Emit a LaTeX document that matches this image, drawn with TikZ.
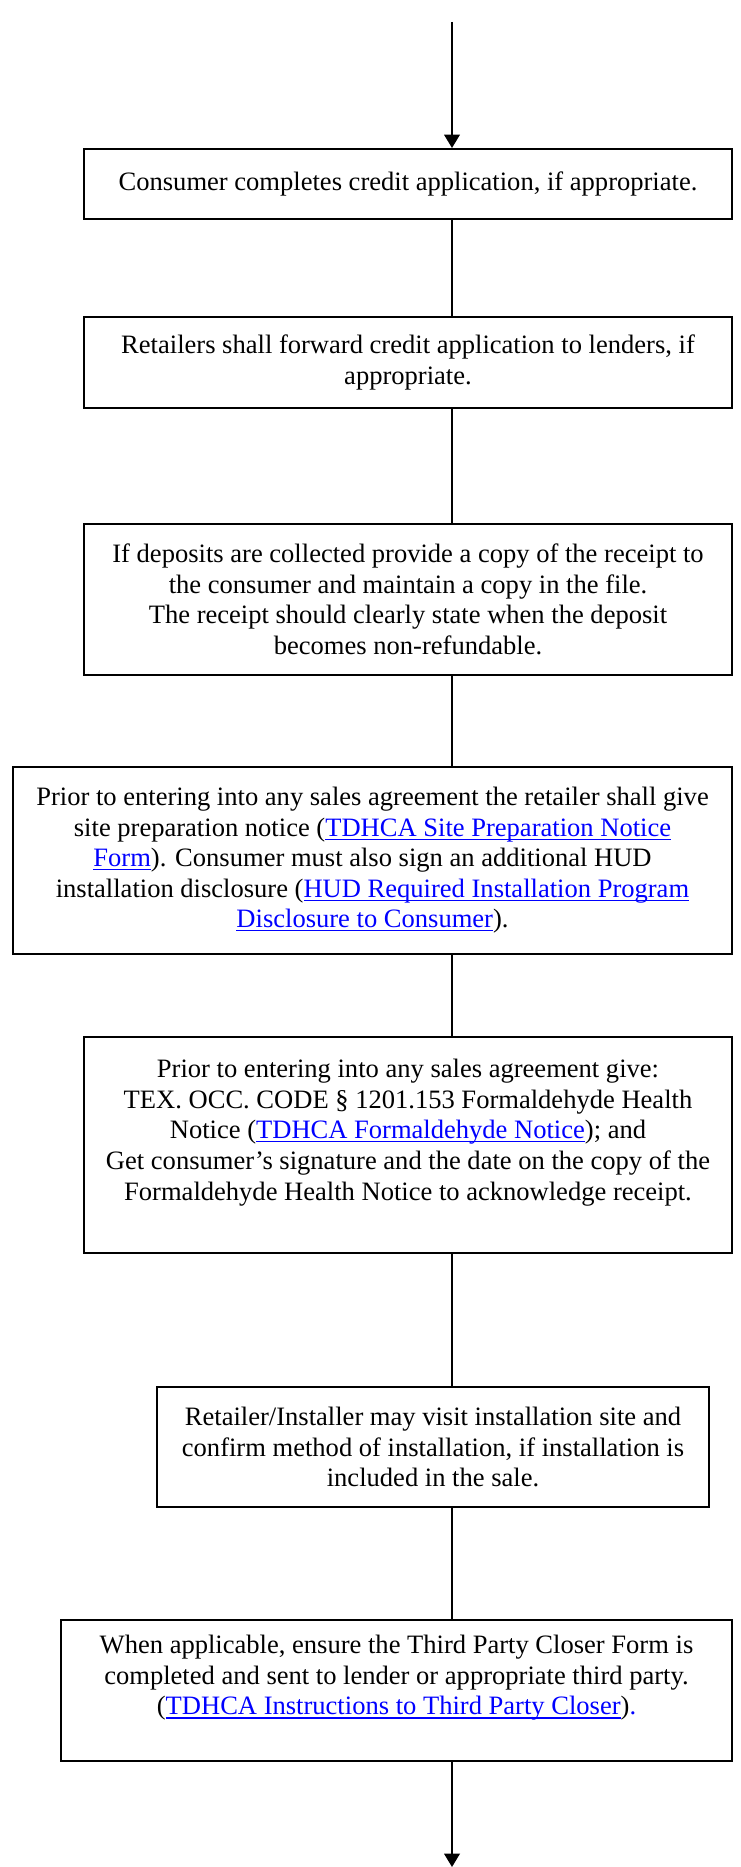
\documentclass[tikz,border=0pt]{standalone}
\usepackage{fontspec}
\setmainfont{Liberation Serif}
\usepackage{xcolor}
\usetikzlibrary{arrows.meta}

\definecolor{linkblue}{RGB}{0,0,255}
\newsavebox\lnkbox
\newcommand{\lnk}[1]{\textcolor{linkblue}{\sbox\lnkbox{#1}\rlap{\rule[-1.6pt]{\wd\lnkbox}{0.5pt}}\usebox\lnkbox}}
\newdimen\pxu \pxu=0.452pt

\begin{document}
\begin{tikzpicture}[
    x=0.452pt, y=-0.452pt,
    font=\fontsize{12pt}{13.8pt}\selectfont,
    stepbox/.style={rectangle, draw, line width=0.9pt, align=center, inner sep=0pt},
    arrow/.style={-{Triangle[length=6pt,width=7pt]}, line width=0.9pt},
    link/.style={line width=0.9pt}
]
\useasboundingbox (0,0) rectangle (740,1867);

% Spine
\coordinate (start) at (452,22);
\coordinate (finish) at (452,1867);

% Steps
\node[stepbox, minimum width=648\pxu, minimum height=70\pxu] (credit_app) at (408,184)
    {Consumer completes credit application, if appropriate.};
\node[stepbox, minimum width=648\pxu, minimum height=91\pxu] (forward_app) at (408,362.5)
    {Retailers shall forward credit application to lenders, if\\appropriate.};
\node[stepbox, minimum width=648\pxu, minimum height=151\pxu] (deposit) at (408,599.5)
    {If deposits are collected provide a copy of the receipt to\\
     the consumer and maintain a copy in the file.\\
     The receipt should clearly state when the deposit\\
     becomes non-refundable.};
\node[stepbox, minimum width=719\pxu, minimum height=187\pxu] (site_notice) at (372.5,860.5)
    {Prior to entering into any sales agreement the retailer shall give\\
     site preparation notice (\lnk{TDHCA Site Preparation Notice}\\
     \lnk{Form}). Consumer must also sign an additional HUD\\
     installation disclosure (\lnk{HUD Required Installation Program}\\
     \lnk{Disclosure to Consumer}).};
\node[stepbox, minimum width=648\pxu, minimum height=216\pxu] (formaldehyde) at (408,1145)
    {Prior to entering into any sales agreement give:\\
     TEX. OCC. CODE § 1201.153 Formaldehyde Health\\
     Notice (\lnk{TDHCA Formaldehyde Notice}); and\\
     Get consumer’s signature and the date on the copy of the\\
     Formaldehyde Health Notice to acknowledge receipt.\\
     \mbox{}};
\node[stepbox, minimum width=552\pxu, minimum height=120\pxu] (site_visit) at (433,1447)
    {Retailer/Installer may visit installation site and\\
     confirm method of installation, if installation is\\
     included in the sale.};
\node[stepbox, minimum width=671\pxu, minimum height=141\pxu] (closer) at (396.5,1690.5)
    {When applicable, ensure the Third Party Closer Form is\\
     completed and sent to lender or appropriate third party.\\
     (\lnk{TDHCA Instructions to Third Party Closer})\textcolor{linkblue}{.}\\
     \mbox{}};

% Connections
\draw[arrow] (start) -- (start |- credit_app.north);
\draw[link] (credit_app.south -| start) -- (forward_app.north -| start);
\draw[link] (forward_app.south -| start) -- (deposit.north -| start);
\draw[link] (deposit.south -| start) -- (site_notice.north -| start);
\draw[link] (site_notice.south -| start) -- (formaldehyde.north -| start);
\draw[link] (formaldehyde.south -| start) -- (site_visit.north -| start);
\draw[link] (site_visit.south -| start) -- (closer.north -| start);
\draw[arrow] (closer.south -| start) -- (finish);

\end{tikzpicture}
\end{document}
